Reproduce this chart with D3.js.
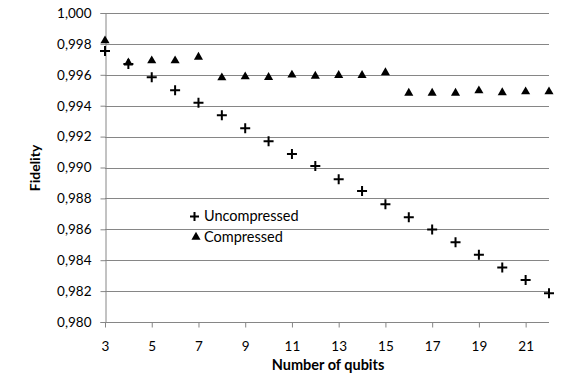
<!DOCTYPE html>
<html>
<head>
<meta charset="utf-8">
<script src="https://cdn.jsdelivr.net/npm/d3@7"></script>
<style>
  body { margin: 0; background: #fff; }
  text { font-family: Lato, "Open Sans", sans-serif; fill: #000; }
</style>
</head>
<body>
<script>
var width = 569;
var height = 380;

// data
var qubits = [3, 4, 5, 6, 7, 8, 9, 10, 11, 12, 13, 14, 15, 16, 17, 18, 19, 20, 21, 22];
var uncompressed = [0.99754, 0.9967, 0.99584, 0.9950, 0.99419, 0.99338, 0.99254, 0.99170, 0.99087, 0.99010,
                    0.98924, 0.98848, 0.98762, 0.98678, 0.98598, 0.98516, 0.98436, 0.98352, 0.98272, 0.98186];
var compressed = [0.99821, 0.99678, 0.99691, 0.99691, 0.99715, 0.99581, 0.99588, 0.99584, 0.99599, 0.99592,
                  0.99597, 0.99597, 0.99614, 0.99482, 0.99482, 0.99482, 0.99497, 0.99485, 0.99491, 0.99491];
var xTicks = [3, 5, 7, 9, 11, 13, 15, 17, 19, 21];
var yTicks = [0.980, 0.982, 0.984, 0.986, 0.988, 0.990, 0.992, 0.994, 0.996, 0.998, 1.000];
var seriesNames = ['Uncompressed', 'Compressed'];

var margin = {left: 105, right: 20, top: 13, bottom: 58};

var svg = d3.select('body')
    .append('svg')
    .attr('width', width)
    .attr('height', height);

var x = d3.scaleLinear()
    .domain([3, 22])
    .range([margin.left, width - margin.right]);

var y = d3.scaleLinear()
    .domain([0.980, 1.000])
    .range([height - margin.bottom, margin.top]);

var fmt = function(d) { return d3.format('.3f')(d).replace('.', ','); };

// gridlines
svg.append('g')
    .selectAll('line')
    .data(yTicks.slice(1))
    .enter()
    .append('line')
    .attr('x1', x(3))
    .attr('x2', x(22))
    .attr('y1', d => Math.round(y(d)) + 0.5)
    .attr('y2', d => Math.round(y(d)) + 0.5)
    .attr('stroke', '#868686')
    .attr('stroke-width', 1);

// y axis
var yAxis = svg.append('g')
    .attr('transform', 'translate(' + (x(3) + 0.5) + ',0)')
    .call(d3.axisLeft(y).tickValues(yTicks).tickFormat(fmt).tickSize(5).tickPadding(9));

// x axis
var xAxis = svg.append('g')
    .attr('transform', 'translate(0,' + (Math.round(y(0.980)) + 0.5) + ')')
    .call(d3.axisBottom(x).tickValues(xTicks).tickFormat(d3.format('d')).tickSize(5).tickPadding(14));

[yAxis, xAxis].forEach(function(a) {
    a.select('.domain').attr('stroke', '#868686');
    a.selectAll('.tick line').attr('stroke', '#868686');
    a.selectAll('.tick text')
        .style('font-family', 'Lato, "Open Sans", sans-serif')
        .style('font-size', '13.5px')
        .attr('fill', '#000');
});
xAxis.select('.domain').attr('d', 'M' + x(3) + ',0H' + x(22));

// axis titles
svg.append('text')
    .attr('x', 328)
    .attr('y', 370)
    .attr('text-anchor', 'middle')
    .style('font-size', '14.5px')
    .style('font-weight', 'bold')
    .text('Number of qubits');

svg.append('text')
    .attr('transform', 'translate(40,' + 168 + ') rotate(-90)')
    .attr('text-anchor', 'middle')
    .style('font-size', '14px')
    .style('font-weight', 'bold')
    .text('Fidelity');

var tri = d3.symbol().type(d3.symbolTriangle).size(36);

// compressed (triangles)
svg.append('g')
    .selectAll('path')
    .data(qubits)
    .enter()
    .append('path')
    .attr('d', tri)
    .attr('transform', (d, i) => 'translate(' + x(d) + ',' + y(compressed[i]) + ')')
    .attr('fill', '#000');

// uncompressed (plus)
svg.append('g')
    .selectAll('path')
    .data(qubits)
    .enter()
    .append('path')
    .attr('d', (d, i) => 'M' + (x(d) - 5) + ',' + y(uncompressed[i]) + 'h10M' + x(d) + ',' + (y(uncompressed[i]) - 5) + 'v10')
    .attr('stroke', '#000')
    .attr('stroke-width', 2)
    .attr('fill', 'none');

// legend
var legend = svg.append('g');
legend.selectAll('text')
    .data(seriesNames)
    .enter()
    .append('text')
    .attr('x', 204)
    .attr('y', (d, i) => 221 + i * 21)
    .style('font-size', '14.5px')
    .text(d => d);

legend.append('path')
    .attr('d', 'M190,216.5h9M194.5,212v9')
    .attr('stroke', '#000')
    .attr('stroke-width', 2);

legend.append('path')
    .attr('d', tri)
    .attr('transform', 'translate(196,237)')
    .attr('fill', '#000');
</script>
</body>
</html>
